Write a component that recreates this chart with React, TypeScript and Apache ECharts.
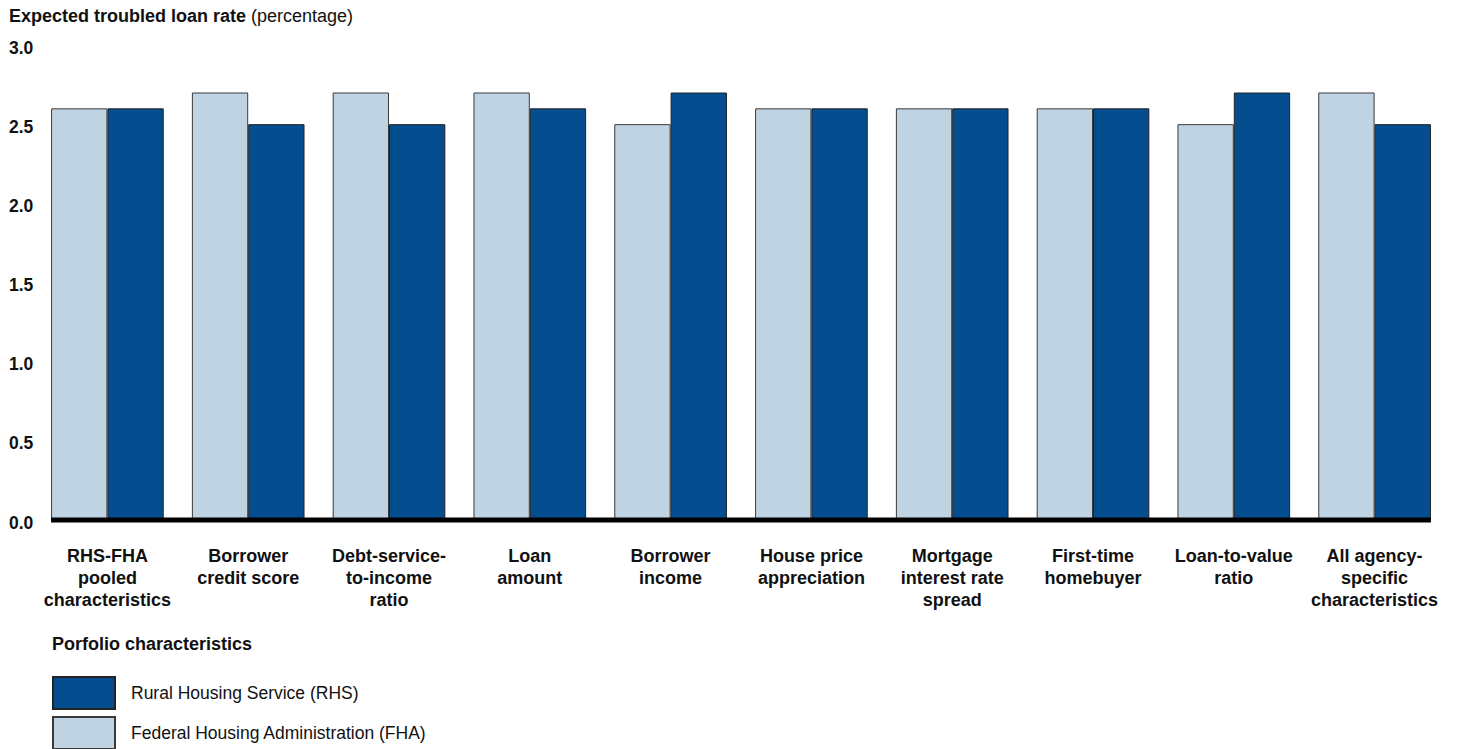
import React, { useEffect, useRef } from "react";
import * as echarts from "echarts";

const categories = [
  "RHS-FHA\npooled\ncharacteristics",
  "Borrower\ncredit score",
  "Debt-service-\nto-income\nratio",
  "Loan\namount",
  "Borrower\nincome",
  "House price\nappreciation",
  "Mortgage\ninterest rate\nspread",
  "First-time\nhomebuyer",
  "Loan-to-value\nratio",
  "All agency-\nspecific\ncharacteristics",
];
const fhaValues = [2.6, 2.7, 2.7, 2.7, 2.5, 2.6, 2.6, 2.6, 2.5, 2.7];
const rhsValues = [2.6, 2.5, 2.5, 2.6, 2.7, 2.6, 2.6, 2.6, 2.7, 2.5];
const RHS_NAME = "Rural Housing Service (RHS)";
const FHA_NAME = "Federal Housing Administration (FHA)";

const FONT = "'Liberation Sans', Arial, sans-serif";

export default function App() {
  const ref = useRef<HTMLDivElement>(null);
  useEffect(() => {
    if (!ref.current) return;
    const chart = echarts.init(ref.current, undefined, { renderer: "svg" });
    const gapRatio = 0.8;
    const legendBase = {
      orient: "vertical",
      left: 47,
      itemWidth: 62,
      itemHeight: 32,
      icon: "rect",
      selectedMode: false,
      textStyle: { fontFamily: FONT, fontSize: 17.5, color: "#111", padding: [0, 0, 0, 11] },
    };
    chart.setOption({
      animation: false,
      textStyle: { fontFamily: FONT },
      title: [
        {
          left: 4,
          top: 2,
          text: "{b|Expected troubled loan rate} {n|(percentage)}",
          textStyle: {
            rich: {
              b: { fontFamily: FONT, fontWeight: "bold", fontSize: 18, color: "#111" },
              n: { fontFamily: FONT, fontWeight: "normal", fontSize: 18, color: "#111" },
            },
          },
        },
        {
          left: 47,
          top: 630,
          text: "Porfolio characteristics",
          textStyle: { fontFamily: FONT, fontWeight: "bold", fontSize: 18, color: "#111" },
        },
      ],
      legend: [
        { ...legendBase, top: 671, data: [RHS_NAME] },
        { ...legendBase, top: 711, data: [FHA_NAME] },
      ],
      grid: { left: 37, right: 13, top: 45, bottom: 229, containLabel: false },
      xAxis: {
        type: "category",
        data: categories,
        axisLine: { show: false },
        axisTick: { show: false },
        axisLabel: {
          interval: 0,
          margin: 25,
          fontFamily: FONT,
          fontWeight: "bold",
          fontSize: 18,
          lineHeight: 22,
          color: "#111",
          align: "center",
        },
      },
      yAxis: {
        type: "value",
        min: 0,
        max: 3,
        interval: 0.5,
        splitLine: { show: false },
        axisLine: { show: false },
        axisTick: { show: false },
        axisLabel: {
          align: "left",
          margin: 28,
          fontFamily: FONT,
          fontWeight: "bold",
          fontSize: 17.5,
          color: "#111",
          formatter: (v: number) => "{s|}\n{a|" + v.toFixed(1) + "}",
          rich: {
            s: { height: 5, lineHeight: 5 },
            a: { fontFamily: FONT, fontWeight: "bold", fontSize: 17.5, color: "#111" },
          },
        },
      },
      series: [
        {
          name: FHA_NAME,
          type: "bar",
          data: fhaValues,
          barGap: "0%",
          barCategoryGap: "20%",
          itemStyle: { color: "#c0d3e2", borderColor: "#3a3a3a", borderWidth: 1 },
        },
        {
          name: RHS_NAME,
          type: "bar",
          data: rhsValues,
          barGap: "0%",
          barCategoryGap: "20%",
          itemStyle: { color: "#044d8f", borderColor: "#222", borderWidth: 1 },
        },
        {
          name: "baseline",
          type: "custom",
          silent: true,
          z: 10,
          data: [[0, 0]],
          encode: { x: 0, y: 1 },
          renderItem: (_params: any, api: any) => {
            const a = api.coord([0, 0]);
            const b = api.coord([categories.length - 1, 0]);
            const half = (api.size([1, 0])[0] / 2) * gapRatio;
            return {
              type: "line",
              shape: { x1: a[0] - half, y1: a[1], x2: b[0] + half, y2: b[1] },
              style: { stroke: "#000", lineWidth: 5 },
            };
          },
        },
      ],
    });
    return () => chart.dispose();
  }, []);
  return (
    <div
      ref={ref}
      style={{ position: "fixed", left: 0, top: 0, width: 1458, height: 749, background: "#fff" }}
    />
  );
}
